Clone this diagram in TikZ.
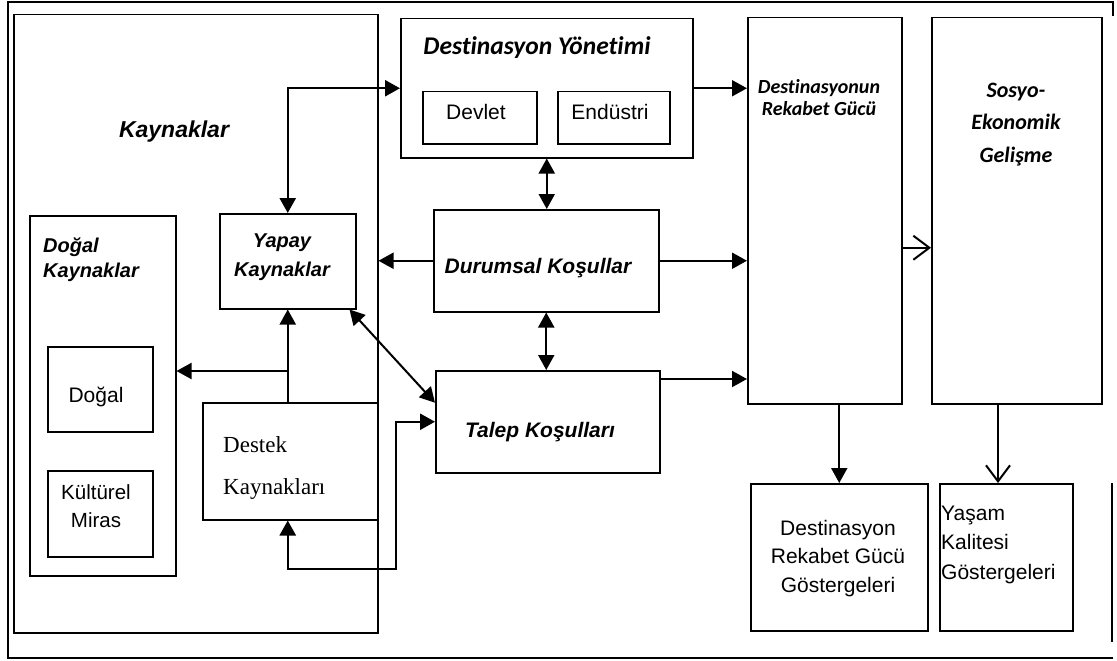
\documentclass[tikz,border=0pt]{standalone}
\usepackage{fontspec}
\setmainfont{Liberation Sans}
\newfontfamily\arialf{Liberation Sans}
\newfontfamily\calf[Ligatures=NoCommon]{Carlito}
\newfontfamily\timesf{Liberation Serif}
\usetikzlibrary{arrows.meta}
\newcommand\bx[5]{\node[box, minimum width={#4-#2}, minimum height={#5-#3}] (#1) at (#2,#3) {};}
\begin{document}
\begin{tikzpicture}[x=1pt,y=-1pt,
  box/.style={draw, line width=1.5pt, inner sep=0pt, anchor=north west},
  ar/.style={line width=2pt, -{Triangle[length=15pt,width=16pt]}},
  dbl/.style={line width=2pt, {Triangle[length=15pt,width=16pt]}-{Triangle[length=15pt,width=16pt]}},
  barb/.style={line width=2pt, -{Straight Barb[length=16pt,width=24pt]}},
  fA/.style 2 args={font=\arialf\fontsize{#1}{#2}\selectfont, inner sep=0pt},
  fAbi/.style 2 args={font=\arialf\bfseries\itshape\fontsize{#1}{#2}\selectfont, inner sep=0pt},
  fCbi/.style 2 args={font=\calf\bfseries\itshape\fontsize{#1}{#2}\selectfont, inner sep=0pt},
  fT/.style 2 args={font=\timesf\fontsize{#1}{#2}\selectfont, inner sep=0pt}]
\useasboundingbox (0,0) rectangle (1117,661);
% outer frame
\draw[line width=1.5pt] (1113,16) -- (1113,2) -- (8,2) -- (8,658) -- (1113,658);
\draw[line width=1.5pt] (1112,483) -- (1112,642);
% boxes
\bx{kay}{13}{14}{377}{632}
\bx{dy}{400}{18}{692}{157}
\bx{devlet}{422}{91}{536}{143}
\bx{endustri}{557}{91}{669}{143}
\bx{drg}{747}{17}{901}{403}
\bx{seg}{931}{17}{1101}{403}
\bx{durum}{433}{209}{658}{311}
\bx{talep}{435}{370}{659}{472}
\bx{yapay}{219}{213}{355}{308}
\bx{dk}{29}{215}{175}{575}
\bx{dogal}{47}{346}{152}{431}
\bx{kultur}{47}{470}{152}{556}
\bx{destek}{202}{402}{377}{519}
\bx{drgg}{750}{483}{927}{630}
\bx{yasam}{939}{483}{1072}{630}
% texts (anchor=base is the baseline of the last line)
\node[fAbi={23}{26}, anchor=base] (kayT) at (174,137) {Kaynaklar};
\node[fCbi={25.5}{28}, anchor=base] (dyT) at (537,55) {Destinasyon Yönetimi};
\node[fA={21}{25}, anchor=base] (devT) at (476,120) {Devlet};
\node[fA={21}{25}, anchor=base] (endT) at (610,119.5) {Endüstri};
\node[fCbi={20}{22}, anchor=base, align=center] (drgT) at (819,115) {Destinasyonun\\Rekabet Gücü};
\node[fCbi={22}{32.5}, anchor=base, align=center] (segT) at (1016,162) {Sosyo-\\Ekonomik\\Gelişme};
\node[fAbi={21}{25}, anchor=base] (durT) at (538,273) {Durumsal Koşullar};
\node[fAbi={21}{25}, anchor=base] (talT) at (540,437) {Talep Koşulları};
\node[fAbi={20}{29}, anchor=base, align=center] (yapT) at (282,276) {Yapay\\Kaynaklar};
\node[fAbi={20}{25}, anchor=base west, align=left] (dkT) at (43,277) {Doğal\\Kaynaklar};
\node[fA={21}{25}, anchor=base] (dogT) at (96,402) {Doğal};
\node[fA={20.5}{28}, anchor=base, align=center] (kulT) at (96,527) {Kültürel\\Miras};
\node[fT={23}{42}, anchor=base west, align=left] (desT) at (223,494) {Destek\\Kaynakları};
\node[fA={21}{28.5}, anchor=base, align=center] (drggT) at (838,592) {Destinasyon\\Rekabet Gücü\\Göstergeleri};
\node[fA={21}{29.5}, anchor=base west, align=left] (yasT) at (941,579) {Yaşam\\Kalitesi\\Göstergeleri};
% connectors
\draw[dbl, line width=2.5pt] (yapay.north) |- (dy.west);
\draw[ar] (dy.east) -- (dy.east -| drg.west);
\draw[dbl] (dy.south) -- (dy.south |- durum.north);
\draw[dbl] (durum.south) -- (durum.south |- talep.north);
\draw[ar] (durum.west) -- (durum.west -| kay.east);
\draw[ar] (durum.east) -- (durum.east -| drg.west);
\coordinate (t1) at ([yshift=-9pt]talep.north east);
\draw[ar] (t1) -- (t1 -| drg.west);
\coordinate (d1) at ([yshift=-37pt]drg.east);
\draw[barb] (d1) -- (d1 -| seg.west);
\draw[dbl] ([xshift=-7pt]yapay.south east) -- ([yshift=19pt]talep.west);
\draw[ar] (yapay.south |- destek.north) -- (yapay.south);
\coordinate (br) at (287,371);
\draw[ar] (br) -- (br -| dk.east);
\coordinate (lp) at (396,569);
\draw[dbl, line width=2.5pt] (yapay.south |- destek.south) |- (lp) |- (talep.west);
\draw[ar] (drgg.north |- drg.south) -- (drgg.north);
\coordinate (sy) at (998,403);
\draw[barb] (sy) -- (sy |- yasam.north);
\end{tikzpicture}
\end{document}
